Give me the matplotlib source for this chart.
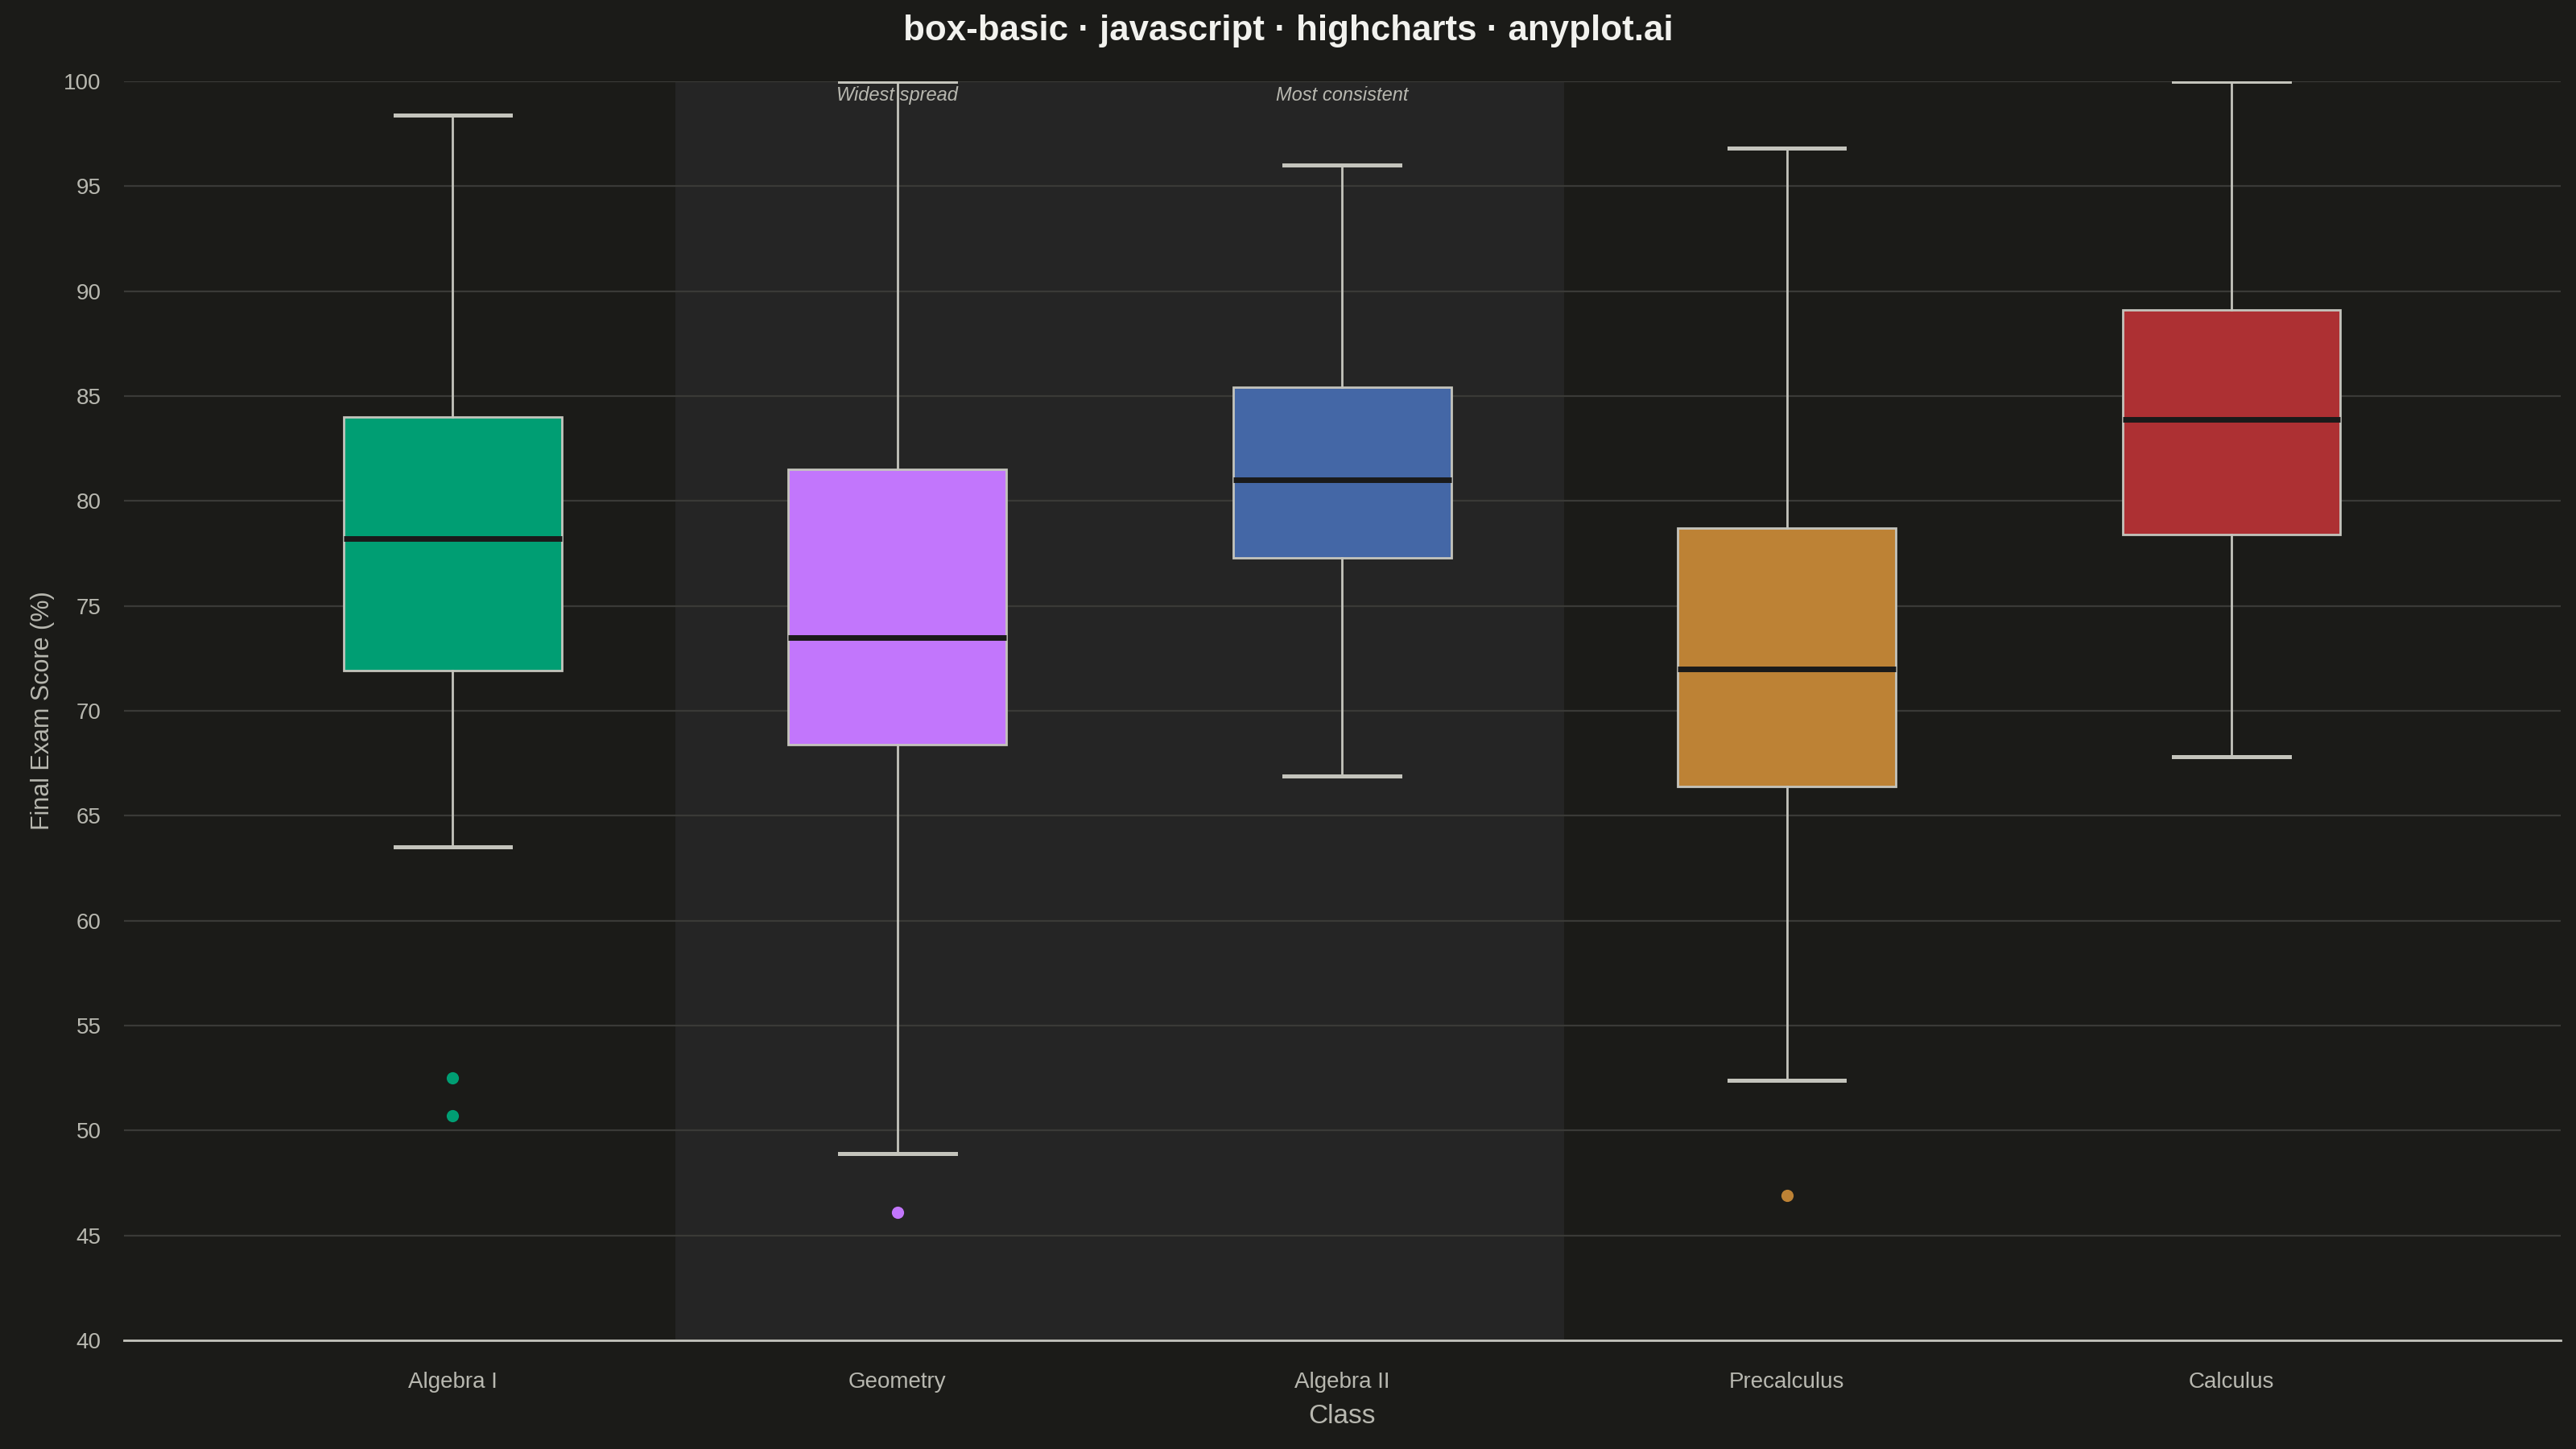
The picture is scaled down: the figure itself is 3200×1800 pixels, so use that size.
import matplotlib
matplotlib.use("Agg")
import matplotlib.pyplot as plt

# --- data ---
classes = ["Algebra I", "Geometry", "Algebra II", "Precalculus", "Calculus"]
whislo = [63.5, 48.9, 66.9, 52.4, 67.8]
q1 = [71.9, 68.4, 77.3, 66.4, 78.4]
med = [78.2, 73.5, 81.0, 72.0, 83.9]
q3 = [84.0, 81.5, 85.4, 78.7, 89.1]
whishi = [98.4, 100.0, 96.0, 96.8, 100.0]
fliers = [[52.5, 50.7], [46.1], [], [46.9], []]
notes = {"Geometry": "Widest spread", "Algebra II": "Most consistent"}

COLORS = ["#009E73", "#C276FC", "#4467A6", "#BD8235", "#AD3033"]
BG = "#1B1B18"
BAND = "#252525"
GRID = "#3A3A37"
LINE = "#C4C4BC"
TEXT = "#B8B8B0"

plt.rcParams["font.family"] = ["Liberation Sans", "DejaVu Sans"]

fig = plt.figure(figsize=(16, 9), dpi=200)
fig.patch.set_facecolor(BG)
ax = fig.add_axes([0.048, 0.075, 0.946, 0.869])
ax.set_facecolor(BG)

stats = []
for i, name in enumerate(classes):
    stats.append({"label": name, "whislo": whislo[i], "q1": q1[i], "med": med[i],
                  "q3": q3[i], "whishi": whishi[i], "fliers": fliers[i]})

pos = list(range(len(classes)))
bp = ax.bxp(stats, positions=pos, widths=0.49, patch_artist=True, showfliers=False,
            boxprops=dict(edgecolor=LINE, linewidth=1.0),
            whiskerprops=dict(color=LINE, linewidth=1.0),
            capprops=dict(color=LINE, linewidth=1.8),
            medianprops=dict(color="#1A1A1A", linewidth=2.5),
            capwidths=0.26, zorder=3)
for patch, c in zip(bp["boxes"], COLORS):
    patch.set_facecolor(c)

for i, vals in enumerate(fliers):
    if vals:
        ax.scatter([pos[i]] * len(vals), vals, s=30, color=COLORS[i], zorder=4, linewidths=0)

# highlighted band behind Geometry and Algebra II
ax.axvspan(0.5, 2.5, color=BAND, zorder=0, linewidth=0)

for name, txt in notes.items():
    ax.text(classes.index(name), 99.75, txt, ha="center", va="top", fontsize=8.5,
            style="italic", color=TEXT, zorder=5)

ax.set_xlim(-0.74, 4.74)
ax.set_ylim(40, 100)
ax.set_yticks(range(40, 101, 5))
ax.set_xticks(pos)
ax.set_xticklabels(classes)
ax.yaxis.grid(True, color=GRID, linewidth=0.8, zorder=1)
ax.set_axisbelow(True)
ax.tick_params(axis="both", length=0, colors=TEXT, labelsize=10)
ax.tick_params(axis="x", pad=14)
ax.tick_params(axis="y", pad=10)
for s in ["top", "right", "left"]:
    ax.spines[s].set_visible(False)
ax.spines["bottom"].set_color(LINE)
ax.spines["bottom"].set_linewidth(1.0)

ax.set_xlabel("Class", color=TEXT, fontsize=12, labelpad=5)
ax.set_ylabel("Final Exam Score (%)", color=TEXT, fontsize=11, labelpad=4)
fig.suptitle("box-basic · javascript · highcharts · anyplot.ai", color="#F2F2EE",
             fontsize=15.8, fontweight="bold", y=0.99)

fig.savefig("out.png", facecolor=BG, dpi=200)
